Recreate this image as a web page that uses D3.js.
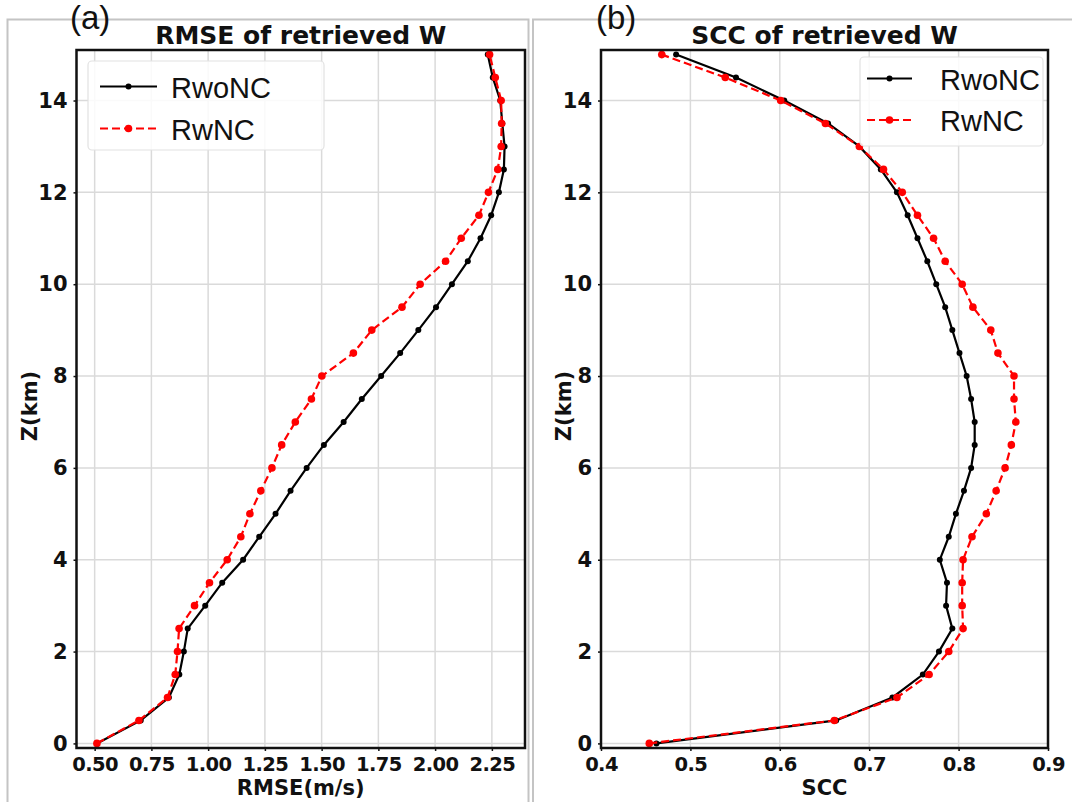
<!DOCTYPE html>
<html>
<head>
<meta charset="utf-8">
<script src="https://cdn.jsdelivr.net/npm/d3@7"></script>
<style>
  body { margin: 0; background: #fff; }
  svg { display: block; }
  .tick text { font-family: "DejaVu Sans", sans-serif; font-weight: bold; fill: #111; }
  .lbl { font-family: "DejaVu Sans", sans-serif; font-weight: bold; fill: #111; }
  .leg { font-family: "Liberation Sans", Arial, sans-serif; fill: #111; }
</style>
</head>
<body>
<svg width="1072" height="802"></svg>
<script>
(function () {
  'use strict';

  // heights (km) shared by both panels
  var zLevels = [0, 0.5, 1, 1.5, 2, 2.5, 3, 3.5, 4, 4.5, 5, 5.5, 6, 6.5, 7, 7.5,
                 8, 8.5, 9, 9.5, 10, 10.5, 11, 11.5, 12, 12.5, 13, 13.5, 14, 14.5, 15];

  // (a) RMSE of retrieved W
  var rmseRwoNC = [0.51, 0.703, 0.827, 0.873, 0.893, 0.910, 0.987, 1.062, 1.154, 1.225, 1.297,
                   1.363, 1.434, 1.51, 1.597, 1.677, 1.762, 1.846, 1.926, 2.004, 2.074, 2.144,
                   2.2, 2.247, 2.281, 2.303, 2.306, 2.296, 2.287, 2.254, 2.232];
  var rmseRwNC  = [0.51, 0.695, 0.821, 0.855, 0.865, 0.872, 0.94, 1.006, 1.084, 1.144, 1.184,
                   1.232, 1.281, 1.324, 1.384, 1.455, 1.501, 1.64, 1.721, 1.854, 1.934, 2.046,
                   2.115, 2.193, 2.235, 2.276, 2.291, 2.293, 2.291, 2.265, 2.24];

  // (b) SCC of retrieved W
  var sccRwoNC = [0.462, 0.663, 0.726, 0.760, 0.778, 0.793, 0.786, 0.787, 0.779, 0.789, 0.797,
                  0.806, 0.814, 0.818, 0.818, 0.814, 0.809, 0.801, 0.793, 0.785, 0.775, 0.765,
                  0.754, 0.743, 0.731, 0.713, 0.689, 0.654, 0.605, 0.551, 0.484];
  var sccRwNC  = [0.454, 0.661, 0.731, 0.767, 0.789, 0.805, 0.804, 0.804, 0.805, 0.815, 0.831,
                  0.842, 0.852, 0.859, 0.864, 0.862, 0.862, 0.844, 0.836, 0.816, 0.804, 0.785,
                  0.772, 0.754, 0.737, 0.716, 0.689, 0.651, 0.601, 0.539, 0.468];

  var seriesNames = ["RwoNC", "RwNC"];
  var zTicks = [0, 2, 4, 6, 8, 10, 12, 14];
  var rmseTicks = [0.50, 0.75, 1.00, 1.25, 1.50, 1.75, 2.00, 2.25];
  var sccTicks = [0.4, 0.5, 0.6, 0.7, 0.8, 0.9];

  var svg = d3.select("svg");

  // gray frames around the two sub-figures
  svg.append("rect").attr("x", 7.5).attr("y", 19.5).attr("width", 521).attr("height", 800)
      .attr("fill", "none").attr("stroke", "#c4c4c4").attr("stroke-width", 2);
  svg.append("rect").attr("x", 533).attr("y", 19.5).attr("width", 560).attr("height", 800)
      .attr("fill", "none").attr("stroke", "#c4c4c4").attr("stroke-width", 2);

  var styles = [
    { color: "#000", dash: null, r: 3 },
    { color: "#ff0000", dash: "8,4", r: 3.8 }
  ];

  function drawPanel(p) {
    var x = d3.scaleLinear().domain(p.xDomain).range([p.left, p.right]);
    var y = d3.scaleLinear().domain([-0.1, 15.1]).range([748, 50]);
    var g = svg.append("g");

    // grid
    g.append("g").selectAll("line").data(p.xTicks).enter().append("line")
        .attr("x1", function(d) { return x(d); }).attr("x2", function(d) { return x(d); })
        .attr("y1", y.range()[0]).attr("y2", y.range()[1])
        .attr("stroke", "#dadada").attr("stroke-width", 1.5);
    g.append("g").selectAll("line").data(zTicks).enter().append("line")
        .attr("y1", function(d) { return y(d); }).attr("y2", function(d) { return y(d); })
        .attr("x1", p.left).attr("x2", p.right)
        .attr("stroke", "#dadada").attr("stroke-width", 1.5);

    // axes
    var xAxis = g.append("g").attr("transform", "translate(0,748)")
        .call(d3.axisBottom(x).tickValues(p.xTicks).tickFormat(p.fmt).tickSize(3).tickPadding(6));
    xAxis.selectAll("text").style("font-size", "19.5px").style("letter-spacing", "-0.6px")
        .attr("dy", "0.74em");
    var yAxis = g.append("g").attr("transform", "translate(" + p.left + ",0)")
        .call(d3.axisLeft(y).tickValues(zTicks).tickFormat(d3.format("d")).tickSize(3).tickPadding(6));
    yAxis.selectAll("text").style("font-size", "21px");
    g.selectAll(".domain").remove();
    g.selectAll(".tick line").attr("stroke", "#111").attr("stroke-width", 1.5);

    // series
    var line = d3.line()
        .x(function(d) { return x(d[0]); })
        .y(function(d) { return y(d[1]); });

    p.series.forEach(function(vals, i) {
      var pts = vals.map(function(v, j) { return [v, zLevels[j]]; });
      var s = styles[i];
      g.append("path").datum(pts).attr("d", line)
          .attr("fill", "none").attr("stroke", s.color).attr("stroke-width", 2.2)
          .attr("stroke-dasharray", s.dash);
      g.append("g").selectAll("circle").data(pts).enter().append("circle")
          .attr("cx", function(d) { return x(d[0]); })
          .attr("cy", function(d) { return y(d[1]); })
          .attr("r", s.r).attr("fill", s.color);
    });

    // frame
    g.append("rect").attr("x", p.left).attr("y", 50)
        .attr("width", p.right - p.left).attr("height", 698)
        .attr("fill", "none").attr("stroke", "#111").attr("stroke-width", 2.5);

    // legend
    var L = p.legend;
    g.append("rect").attr("x", L.x0).attr("y", L.y0)
        .attr("width", L.x1 - L.x0).attr("height", L.y1 - L.y0).attr("rx", 4)
        .attr("fill", "#fff").attr("fill-opacity", 0.85)
        .attr("stroke", "#e2e2e2").attr("stroke-width", 1.2);
    seriesNames.forEach(function(name, i) {
      var s = styles[i], ly = L.rows[i];
      g.append("line").attr("x1", L.lx0).attr("x2", L.lx1).attr("y1", ly).attr("y2", ly)
          .attr("stroke", s.color).attr("stroke-width", 2.2).attr("stroke-dasharray", s.dash);
      g.append("circle").attr("cx", (L.lx0 + L.lx1) / 2).attr("cy", ly).attr("r", s.r).attr("fill", s.color);
      g.append("text").attr("class", "leg").attr("x", L.tx).attr("y", ly + 11)
          .style("font-size", "29px").text(name);
    });

    // titles and labels
    var cx = (p.left + p.right) / 2;
    g.append("text").attr("class", "lbl").attr("x", cx).attr("y", 44)
        .attr("text-anchor", "middle").style("font-size", "25px").text(p.title);
    g.append("text").attr("class", "lbl").attr("x", cx).attr("y", 795)
        .attr("text-anchor", "middle").style("font-size", "21px").text(p.xLabel);
    g.append("text").attr("class", "lbl")
        .attr("transform", "translate(" + p.zLabelX + ",406) rotate(-90)")
        .attr("text-anchor", "middle").style("font-size", "21px").text("Z(km)");
    g.append("text").attr("class", "leg").attr("x", p.tagX).attr("y", 29)
        .style("font-size", "33px").text(p.tag);
  }

  drawPanel({
    left: 76.5, right: 525, xDomain: [0.42, 2.396], xTicks: rmseTicks, fmt: d3.format(".2f"),
    series: [rmseRwoNC, rmseRwNC], title: "RMSE of retrieved W", xLabel: "RMSE(m/s)",
    zLabelX: 37, tag: "(a)", tagX: 70,
    legend: { x0: 88, y0: 61, x1: 324, y1: 150, lx0: 100, lx1: 157, tx: 171, rows: [86.5, 128.5] }
  });

  drawPanel({
    left: 601, right: 1048, xDomain: [0.4, 0.9], xTicks: sccTicks, fmt: d3.format(".1f"),
    series: [sccRwoNC, sccRwNC], title: "SCC of retrieved W", xLabel: "SCC",
    zLabelX: 571, tag: "(b)", tagX: 596,
    legend: { x0: 860, y0: 57, x1: 1043, y1: 146, lx0: 867, lx1: 912, tx: 940, rows: [78.5, 120] }
  });
}());
</script>
</body>
</html>
